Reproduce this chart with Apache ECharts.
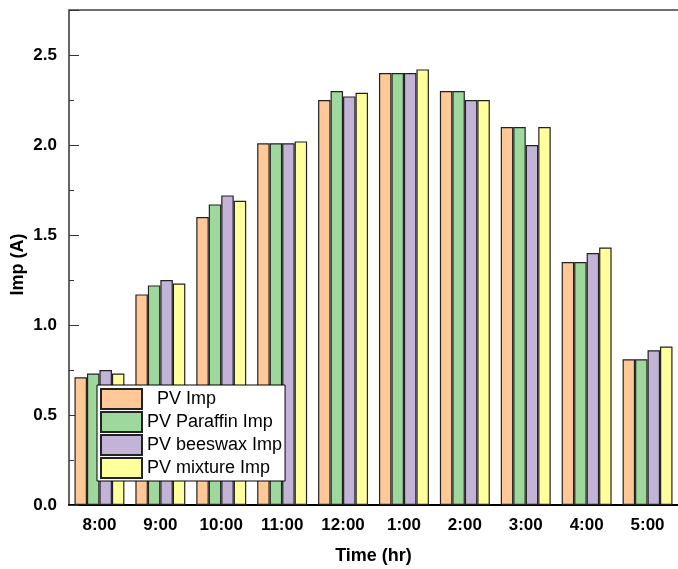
<!DOCTYPE html>
<html>
<head>
<meta charset="utf-8">
<script src="https://cdn.jsdelivr.net/npm/echarts@6/dist/echarts.min.js"></script>
<style>
    html, body { margin: 0; padding: 0; background: #fff; }
    #main { width: 678px; height: 569px; }
</style>
</head>
<body>
<div id="main"></div>
<script>
    // 数据从图上读出来的
    var times = ['8:00', '9:00', '10:00', '11:00', '12:00', '1:00', '2:00', '3:00', '4:00', '5:00'];
    var pvImp = [0.71, 1.17, 1.60, 2.01, 2.25, 2.40, 2.30, 2.10, 1.35, 0.81];
    var paraffinImp = [0.73, 1.22, 1.67, 2.01, 2.30, 2.40, 2.30, 2.10, 1.35, 0.81];
    var beeswaxImp = [0.75, 1.25, 1.72, 2.01, 2.27, 2.40, 2.25, 2.00, 1.40, 0.86];
    var mixtureImp = [0.73, 1.23, 1.69, 2.02, 2.29, 2.42, 2.25, 2.10, 1.43, 0.88];
    var seriesNames = ['  PV Imp', 'PV Paraffin Imp', 'PV beeswax Imp', 'PV mixture Imp'];
    var colors = ['#FFC896', '#9FD89C', '#C3B3D7', '#FFFF9C'];

    var font = '"Liberation Sans", Arial, sans-serif';
    var myChart = echarts.init(document.getElementById('main'));

    function bar(name, data, i) {
        return {
            name: name,
            type: 'bar',
            data: data,
            barGap: 0,
            barCategoryGap: '18%',
            itemStyle: {
                color: colors[i],
                borderColor: '#222',
                borderWidth: 1.2
            }
        };
    }

    var option = {
        animation: false,
        backgroundColor: '#fff',
        grid: {
            left: 69,
            right: 0,
            top: 10,
            bottom: 64,
            containLabel: false,
            outerBoundsMode: 'none'
        },
        legend: {
            orient: 'vertical',
            left: 97,
            top: 385,
            padding: [3, 3, 2, 3],
            itemWidth: 41,
            itemHeight: 20,
            itemGap: 1,
            backgroundColor: '#fff',
            borderColor: '#000',
            borderWidth: 1,
            borderRadius: 0,
            icon: 'rect',
            textStyle: {
                fontFamily: font,
                fontSize: 18,
                lineHeight: 20,
                color: '#000'
            },
            data: seriesNames
        },
        xAxis: [
            {
                type: 'category',
                data: times,
                name: 'Time (hr)',
                nameLocation: 'middle',
                nameGap: 42,
                nameMoveOverlap: false,
                nameTextStyle: {
                    fontFamily: font,
                    fontSize: 18,
                    fontWeight: 'bold',
                    color: '#000'
                },
                axisLine: { lineStyle: { color: '#000', width: 2 } },
                axisTick: { inside: true, length: 4, lineStyle: { color: '#555' } },
                axisLabel: {
                    margin: 12,
                    fontFamily: font,
                    fontSize: 17,
                    fontWeight: 'bold',
                    color: '#000'
                }
            },
            {
                type: 'category',
                position: 'top',
                data: times,
                axisLine: { lineStyle: { color: '#707070', width: 2 } },
                axisTick: { show: false },
                axisLabel: { show: false }
            }
        ],
        yAxis: {
            type: 'value',
            min: 0,
            max: 2.75,
            interval: 0.5,
            name: 'Imp (A)',
            nameLocation: 'middle',
            nameGap: 42,
            nameMoveOverlap: false,
            nameTextStyle: {
                fontFamily: font,
                fontSize: 18,
                fontWeight: 'bold',
                color: '#000',
                padding: [0, 14, 0, 0]
            },
            axisLine: { show: true, lineStyle: { color: '#333', width: 1.5 } },
            axisTick: { show: true, inside: true, length: 10, lineStyle: { color: '#333' } },
            minorTick: { show: true, splitNumber: 2, length: 5, lineStyle: { color: '#333' } },
            splitLine: { show: false },
            axisLabel: {
                margin: 12,
                showMaxLabel: false,
                fontFamily: font,
                fontSize: 17,
                fontWeight: 'bold',
                color: '#000',
                formatter: function (v) { return v.toFixed(1); }
            }
        },
        series: [
            bar(seriesNames[0], pvImp, 0),
            bar(seriesNames[1], paraffinImp, 1),
            bar(seriesNames[2], beeswaxImp, 2),
            bar(seriesNames[3], mixtureImp, 3)
        ]
    };
    myChart.setOption(option);
</script>
</body>
</html>
